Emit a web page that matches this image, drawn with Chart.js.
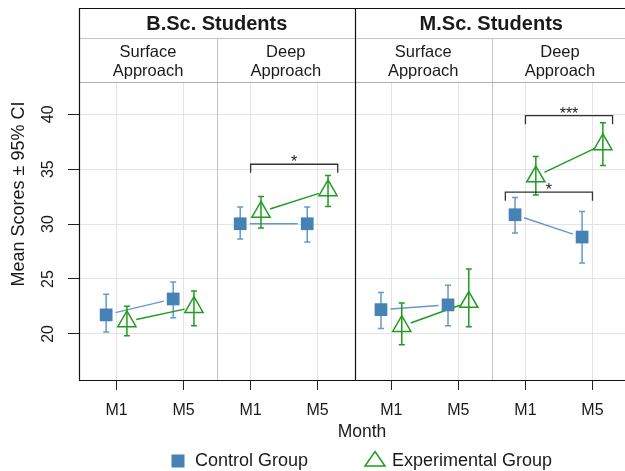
<!DOCTYPE html>
<html>
<head>
<meta charset="utf-8">
<script src="https://cdn.jsdelivr.net/npm/chart.js@4.4.0/dist/chart.umd.min.js"></script>
<style>
  html, body { margin: 0; padding: 0; background: #fff; overflow: hidden; }
  #wrap { width: 625px; height: 471px; overflow: hidden; }
  canvas { display: block; }
</style>
</head>
<body>
<div id="wrap"><canvas id="chart" width="640" height="471"></canvas></div>
<script>
const groups = ['B.Sc. Students', 'M.Sc. Students'];
const approaches = [['Surface', 'Approach'], ['Deep', 'Approach']];
const months = ['M1', 'M5'];
const seriesNames = ['Control Group', 'Experimental Group'];

// one value per panel/month, panels in order B.Sc surface, B.Sc deep, M.Sc surface, M.Sc deep
const controlMean = [21.73, 23.18, 30.03, 30.03, 22.21, 22.64, 30.85, 28.82];
const controlLow  = [20.18, 21.48, 28.64, 28.36, 20.48, 20.75, 29.18, 26.45];
const controlHigh = [23.60, 24.73, 31.55, 31.55, 23.78, 24.42, 32.42, 31.15];
const expMean = [21.13, 22.43, 31.11, 33.06, 20.70, 22.90, 34.33, 37.25];
const expLow  = [19.82, 20.75, 29.64, 31.60, 19.00, 20.66, 32.66, 35.33];
const expHigh = [22.51, 23.90, 32.51, 34.42, 22.82, 25.91, 36.15, 39.24];

const yTicks = [20, 25, 30, 35, 40];

// significance brackets (panel index, series index, height, label)
const brackets = [
  { panel: 1, series: 1, y: 35.45, label: '*' },
  { panel: 3, series: 0, y: 32.91, label: '*' },
  { panel: 3, series: 1, y: 39.87, label: '***' }
];

const FONT = '"Liberation Sans", Arial, sans-serif';
const BLUE = '#4682b4';
const BLUE_LINE = '#639bd0';
const GREEN = '#1f9c1f';
const GRID = '#e4e4e4';
const TEXT = '#1a1a1a';

const GROUP_GAP = 0.1;
const DODGE = 0.155;
const X_MIN = -0.56;
const X_MAX = 7.63;
const Y_MIN = 15.8;
const Y_MAX = 42.94;

function xOf(i) {
  return i + (i >= 4 ? GROUP_GAP : 0);
}
const tickPos = controlMean.map((v, i) => xOf(i));

function panelEdges(p) {
  const l = p === 0 ? X_MIN : (xOf(2 * p - 1) + xOf(2 * p)) / 2;
  const r = p === 3 ? X_MAX : (xOf(2 * p + 1) + xOf(2 * p + 2)) / 2;
  return [l, r];
}

function crisp(v) {
  return Math.round(v) + 0.5;
}

function hline(ctx, x1, x2, y, color) {
  ctx.strokeStyle = color;
  ctx.beginPath();
  ctx.moveTo(x1, crisp(y));
  ctx.lineTo(x2, crisp(y));
  ctx.stroke();
}

function vline(ctx, x, y1, y2, color) {
  ctx.strokeStyle = color;
  ctx.beginPath();
  ctx.moveTo(crisp(x), y1);
  ctx.lineTo(crisp(x), y2);
  ctx.stroke();
}

const facetPlugin = {
  id: 'facets',
  beforeDatasetsDraw(chart) {
    const { ctx, chartArea: a, scales: { x, y } } = chart;
    ctx.save();
    ctx.lineWidth = 1;

    // panel separators
    [1, 3].forEach(p => vline(ctx, x.getPixelForValue(panelEdges(p)[0]), 38, a.bottom, '#c4c4c4'));

    const series = [
      { mean: controlMean, low: controlLow, high: controlHigh, off: -DODGE, color: BLUE_LINE, meta: chart.getDatasetMeta(0) },
      { mean: expMean, low: expLow, high: expHigh, off: DODGE, color: GREEN, meta: chart.getDatasetMeta(1) }
    ];

    series.forEach(s => {
      ctx.strokeStyle = s.color;
      // connecting lines M1 -> M5, with gaps at the markers
      ctx.lineWidth = 1.4;
      for (let p = 0; p < 4; p++) {
        const a1 = s.meta.data[2 * p], b1 = s.meta.data[2 * p + 1];
        const dx = b1.x - a1.x, dy = b1.y - a1.y;
        const len = Math.hypot(dx, dy);
        const g = 9.5;
        ctx.beginPath();
        ctx.moveTo(a1.x + dx / len * g, a1.y + dy / len * g);
        ctx.lineTo(b1.x - dx / len * g, b1.y - dy / len * g);
        ctx.stroke();
      }
      // error bars
      ctx.lineWidth = 1.5;
      s.mean.forEach((v, i) => {
        const px = x.getPixelForValue(xOf(i) + s.off);
        const top = y.getPixelForValue(s.high[i]);
        const bot = y.getPixelForValue(s.low[i]);
        ctx.beginPath();
        ctx.moveTo(px, top);
        ctx.lineTo(px, bot);
        ctx.moveTo(px - 3, top);
        ctx.lineTo(px + 3, top);
        ctx.moveTo(px - 3, bot);
        ctx.lineTo(px + 3, bot);
        ctx.stroke();
      });
    });
    ctx.restore();
  },
  afterDraw(chart) {
    const { ctx, chartArea: a, scales: { x, y } } = chart;
    ctx.save();
    ctx.lineWidth = 1;
    const left = a.left, right = a.right;
    const midSep = x.getPixelForValue(panelEdges(2)[0]);

    // strips
    hline(ctx, left, right, 38, '#c4c4c4');
    hline(ctx, left, right, a.top, '#b0b0b0');
    vline(ctx, x.getPixelForValue(panelEdges(1)[0]), 38, a.top, '#c4c4c4');
    vline(ctx, x.getPixelForValue(panelEdges(3)[0]), 38, a.top, '#c4c4c4');

    ctx.fillStyle = TEXT;
    ctx.textAlign = 'center';
    ctx.textBaseline = 'alphabetic';
    ctx.font = 'bold 20px ' + FONT;
    groups.forEach((g, gi) => {
      const l = x.getPixelForValue(panelEdges(2 * gi)[0]);
      const r = x.getPixelForValue(panelEdges(2 * gi + 1)[1]);
      ctx.fillText(g, (l + r) / 2, 30);
    });
    ctx.font = '16.5px ' + FONT;
    for (let p = 0; p < 4; p++) {
      const [l, r] = panelEdges(p).map(v => x.getPixelForValue(v));
      const lines = approaches[p % 2];
      ctx.fillText(lines[0], (l + r) / 2, 57);
      ctx.fillText(lines[1], (l + r) / 2, 76);
    }

    // frame
    ctx.lineWidth = 1.2;
    hline(ctx, left, right, 8, '#111');
    hline(ctx, left, right, a.bottom, '#111');
    vline(ctx, left, 8, a.bottom, '#111');
    vline(ctx, midSep, 8, a.bottom, '#111');

    // brackets
    ctx.strokeStyle = '#333';
    ctx.lineWidth = 1.3;
    brackets.forEach(b => {
      const i1 = 2 * b.panel, i2 = 2 * b.panel + 1;
      const x1 = x.getPixelForValue(b.series === 1 ? xOf(i1) : xOf(i1) - 0.3);
      const x2 = x.getPixelForValue(b.series === 1 ? xOf(i2) + 0.3 : xOf(i2));
      const yb = y.getPixelForValue(b.y);
      const yl = y.getPixelForValue(b.y - 0.78);
      ctx.beginPath();
      ctx.moveTo(x1, yl);
      ctx.lineTo(x1, yb);
      ctx.lineTo(x2, yb);
      ctx.lineTo(x2, yl);
      ctx.stroke();
      ctx.fillStyle = TEXT;
      ctx.font = '16px ' + FONT;
      ctx.textAlign = 'center';
      ctx.fillText(b.label, (x1 + x2) / 2, yb + 3);
    });

    // y tick labels (rotated)
    ctx.fillStyle = TEXT;
    ctx.font = '16px ' + FONT;
    yTicks.forEach(t => {
      ctx.save();
      ctx.translate(48.5, y.getPixelForValue(t));
      ctx.rotate(-Math.PI / 2);
      ctx.textAlign = 'center';
      ctx.textBaseline = 'middle';
      ctx.fillText(String(t), 0, 0);
      ctx.restore();
    });

    // axis titles
    ctx.save();
    ctx.translate(19, 194);
    ctx.rotate(-Math.PI / 2);
    ctx.font = '18px ' + FONT;
    ctx.textAlign = 'center';
    ctx.textBaseline = 'middle';
    ctx.fillText('Mean Scores \u00b1 95% CI', 0, 0);
    ctx.restore();

    ctx.font = '17.5px ' + FONT;
    ctx.textAlign = 'center';
    ctx.fillText('Month', 362, 437);

    // legend
    ctx.font = '18px ' + FONT;
    ctx.textAlign = 'left';
    ctx.fillStyle = BLUE;
    ctx.fillRect(171.5, 454.5, 13, 13);
    ctx.fillStyle = TEXT;
    ctx.fillText(chart.data.datasets[0].label, 195, 466);
    ctx.strokeStyle = GREEN;
    ctx.lineWidth = 1.5;
    ctx.beginPath();
    ctx.moveTo(375, 451.5);
    ctx.lineTo(385, 466);
    ctx.lineTo(365, 466);
    ctx.closePath();
    ctx.stroke();
    ctx.fillText(chart.data.datasets[1].label, 392, 466);

    ctx.restore();
  }
};

new Chart(document.getElementById('chart'), {
  type: 'scatter',
  data: {
    datasets: [
      {
        label: seriesNames[0],
        data: controlMean.map((v, i) => ({ x: xOf(i) - DODGE, y: v })),
        pointStyle: 'rect',
        pointRadius: 9,
        pointHoverRadius: 9,
        backgroundColor: BLUE,
        borderColor: BLUE,
        borderWidth: 0
      },
      {
        label: seriesNames[1],
        data: expMean.map((v, i) => ({ x: xOf(i) + DODGE, y: v })),
        pointStyle: 'triangle',
        pointRadius: 10.5,
        pointHoverRadius: 10.5,
        backgroundColor: 'rgba(0,0,0,0)',
        borderColor: GREEN,
        borderWidth: 1.5
      }
    ]
  },
  options: {
    responsive: false,
    animation: false,
    events: [],
    layout: { padding: { left: 0, top: 82, right: 5, bottom: 0 } },
    plugins: { legend: { display: false }, tooltip: { enabled: false } },
    scales: {
      x: {
        type: 'linear',
        min: X_MIN,
        max: X_MAX,
        afterBuildTicks: s => { s.ticks = tickPos.map(v => ({ value: v })); },
        afterFit: s => { s.height = 91; },
        ticks: {
          callback: (v, i) => months[i % 2],
          font: { family: FONT, size: 16 },
          color: TEXT,
          padding: 11,
          maxRotation: 0,
          autoSkip: false
        },
        grid: { color: GRID, tickColor: '#222', tickLength: 10, lineWidth: 1 },
        border: { display: false }
      },
      y: {
        min: Y_MIN,
        max: Y_MAX,
        afterBuildTicks: s => { s.ticks = yTicks.map(v => ({ value: v })); },
        afterFit: s => { s.width = 79; },
        ticks: { display: false },
        grid: { color: GRID, tickColor: '#222', tickLength: 11, lineWidth: 1 },
        border: { display: false }
      }
    }
  },
  plugins: [facetPlugin]
});
</script>
</body>
</html>
